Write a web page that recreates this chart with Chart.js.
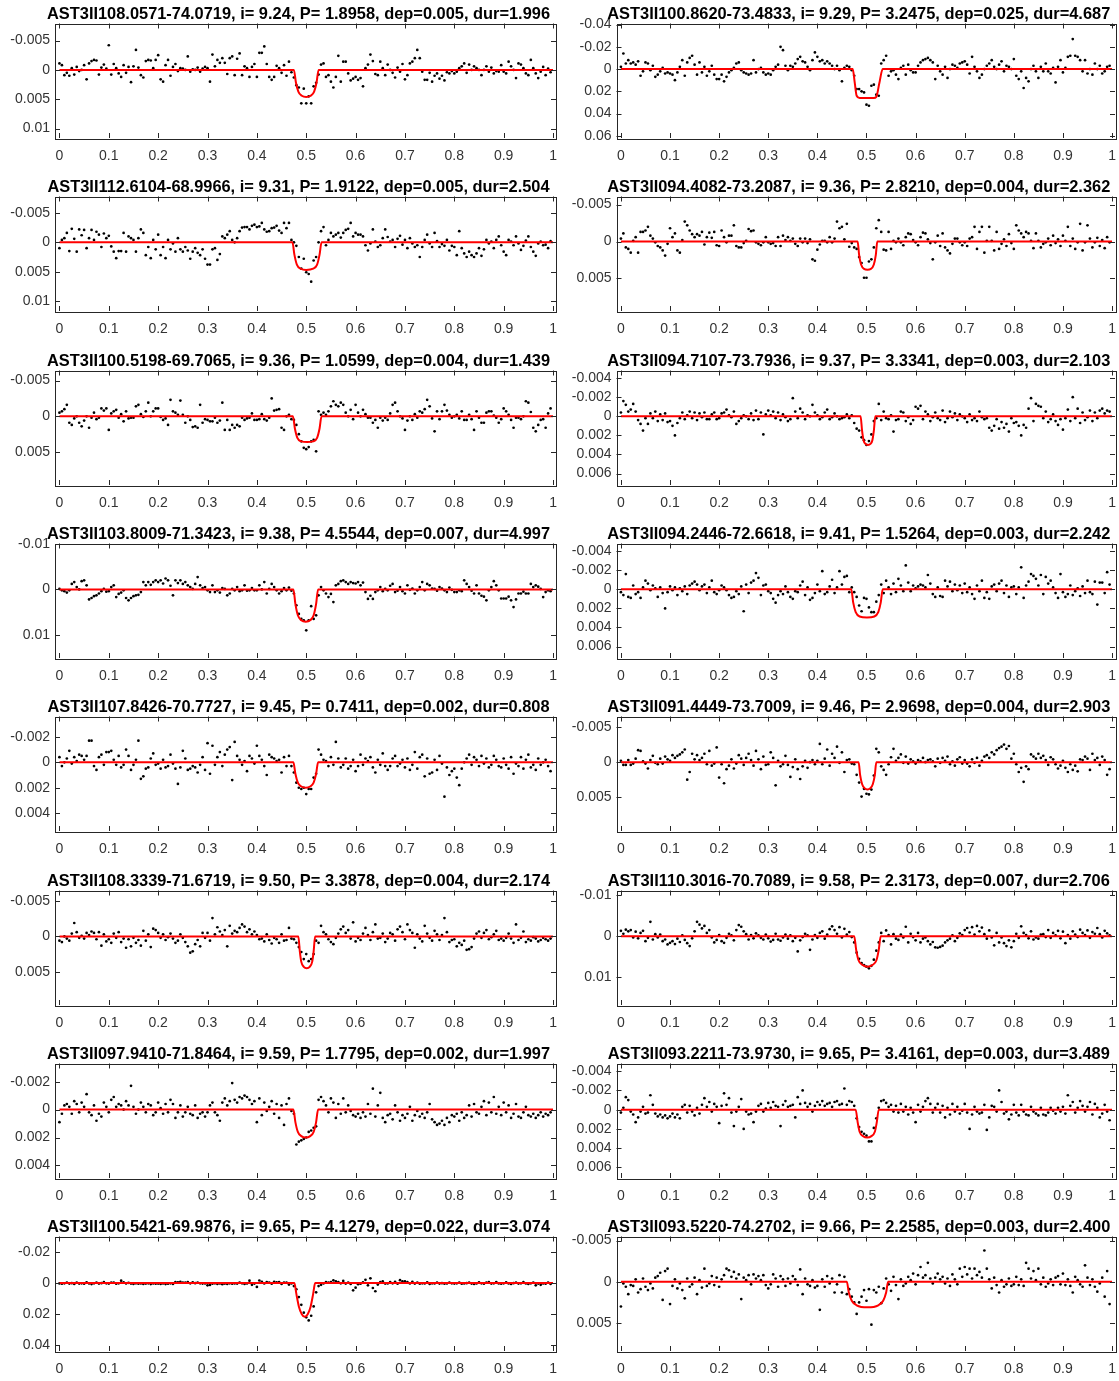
<!DOCTYPE html>
<html>
<head>
<meta charset="utf-8">
<title>AST3-II transit candidates</title>
<script src="https://cdn.jsdelivr.net/npm/chart.js@4.4.1/dist/chart.umd.min.js"></script>
<style>
  html, body { margin: 0; padding: 0; background: #fff; }
  #grid { position: relative; width: 1119px; height: 1381px; overflow: hidden; }
  #grid canvas { position: absolute; }
</style>
</head>
<body>
<div id="grid"></div>
<script>
// orbital phase of every binned point (same bins for all panels)
const phase = [
  0,0.005,0.01,0.015,0.02,0.025,0.03,0.035,0.04,0.045,0.05,0.055,0.06,0.065,0.07,0.075,0.08,0.085,0.09,0.095,
  0.1,0.105,0.11,0.115,0.12,0.125,0.13,0.135,0.14,0.145,0.15,0.155,0.16,0.165,0.17,0.175,0.18,0.185,0.19,0.195,
  0.2,0.205,0.21,0.215,0.22,0.225,0.23,0.235,0.24,0.245,0.25,0.255,0.26,0.265,0.27,0.275,0.28,0.285,0.29,0.295,
  0.3,0.305,0.31,0.315,0.32,0.325,0.33,0.335,0.34,0.345,0.35,0.355,0.36,0.365,0.37,0.375,0.38,0.385,0.39,0.395,
  0.4,0.405,0.41,0.415,0.42,0.425,0.43,0.435,0.44,0.445,0.45,0.455,0.46,0.465,0.47,0.475,0.48,0.485,0.49,0.495,
  0.5,0.505,0.51,0.515,0.52,0.525,0.53,0.535,0.54,0.545,0.55,0.555,0.56,0.565,0.57,0.575,0.58,0.585,0.59,0.595,
  0.6,0.605,0.61,0.615,0.62,0.625,0.63,0.635,0.64,0.645,0.65,0.655,0.66,0.665,0.67,0.675,0.68,0.685,0.69,0.695,
  0.7,0.705,0.71,0.715,0.72,0.725,0.73,0.735,0.74,0.745,0.75,0.755,0.76,0.765,0.77,0.775,0.78,0.785,0.79,0.795,
  0.8,0.805,0.81,0.815,0.82,0.825,0.83,0.835,0.84,0.845,0.85,0.855,0.86,0.865,0.87,0.875,0.88,0.885,0.89,0.895,
  0.9,0.905,0.91,0.915,0.92,0.925,0.93,0.935,0.94,0.945,0.95,0.955,0.96,0.965,0.97,0.975,0.98,0.985,0.99,0.995
];

const xTicks = [0, 0.1, 0.2, 0.3, 0.4, 0.5, 0.6, 0.7, 0.8, 0.9, 1];

const titles = [
  'AST3II108.0571-74.0719, i= 9.24, P= 1.8958, dep=0.005, dur=1.996',
  'AST3II100.8620-73.4833, i= 9.29, P= 3.2475, dep=0.025, dur=4.687',
  'AST3II112.6104-68.9966, i= 9.31, P= 1.9122, dep=0.005, dur=2.504',
  'AST3II094.4082-73.2087, i= 9.36, P= 2.8210, dep=0.004, dur=2.362',
  'AST3II100.5198-69.7065, i= 9.36, P= 1.0599, dep=0.004, dur=1.439',
  'AST3II094.7107-73.7936, i= 9.37, P= 3.3341, dep=0.003, dur=2.103',
  'AST3II103.8009-71.3423, i= 9.38, P= 4.5544, dep=0.007, dur=4.997',
  'AST3II094.2446-72.6618, i= 9.41, P= 1.5264, dep=0.003, dur=2.242',
  'AST3II107.8426-70.7727, i= 9.45, P= 0.7411, dep=0.002, dur=0.808',
  'AST3II091.4449-73.7009, i= 9.46, P= 2.9698, dep=0.004, dur=2.903',
  'AST3II108.3339-71.6719, i= 9.50, P= 3.3878, dep=0.004, dur=2.174',
  'AST3II110.3016-70.7089, i= 9.58, P= 2.3173, dep=0.007, dur=2.706',
  'AST3II097.9410-71.8464, i= 9.59, P= 1.7795, dep=0.002, dur=1.997',
  'AST3II093.2211-73.9730, i= 9.65, P= 3.4161, dep=0.003, dur=3.489',
  'AST3II100.5421-69.9876, i= 9.65, P= 4.1279, dep=0.022, dur=3.074',
  'AST3II093.5220-74.2702, i= 9.66, P= 2.2585, dep=0.003, dur=2.400'
];

// y axis limits (reversed axis, dimming downwards) and tick values
const yLimits = [
  [-0.0079, 0.0116], [-0.041, 0.062], [-0.0078, 0.0117], [-0.0061, 0.0094],
  [-0.0064, 0.0096], [-0.0048, 0.0072], [-0.0101, 0.0151], [-0.0048, 0.0072],
  [-0.0036, 0.0054], [-0.0065, 0.0098], [-0.0065, 0.0097], [-0.0111, 0.0167],
  [-0.0033, 0.0049], [-0.0048, 0.0071], [-0.0298, 0.0436], [-0.0055, 0.0084]
];
const yTicks = [
  [-0.005, 0, 0.005, 0.01], [-0.04, -0.02, 0, 0.02, 0.04, 0.06], [-0.005, 0, 0.005, 0.01], [-0.005, 0, 0.005],
  [-0.005, 0, 0.005], [-0.004, -0.002, 0, 0.002, 0.004, 0.006], [-0.01, 0, 0.01], [-0.004, -0.002, 0, 0.002, 0.004, 0.006],
  [-0.002, 0, 0.002, 0.004], [-0.005, 0, 0.005], [-0.005, 0, 0.005], [-0.01, 0, 0.01],
  [-0.002, 0, 0.002, 0.004], [-0.004, -0.002, 0, 0.002, 0.004, 0.006], [-0.02, 0, 0.02, 0.04], [-0.005, 0, 0.005]
];

// binned relative flux per panel, in units of 1e-3
const flux108_0571 = [
  -1.1,-0.8,0.9,0.5,1.0,-0.3,0.8,-0.5,0.2,0.0,-0.8,1.6,-1.1,-1.5,-1.7,-1.6,0.8,-0.4,-0.9,-0.2,
  -4.2,0.8,-1.0,-0.3,0.6,1.2,-0.8,0.5,-0.5,2.1,-0.6,-3.4,-0.4,0.9,1.3,-1.5,-1.7,-1.6,-0.3,-1.7,
  -2.5,1.6,2.0,-0.8,-1.7,1.0,-0.5,-1.0,0.2,-0.3,-0.2,0.0,-2.3,0.3,-0.1,0.0,-0.4,0.3,-0.2,-0.5,
  -0.3,2.0,-2.6,-0.6,-1.7,-1.2,-2.0,-1.2,0.7,-2.0,-2.3,0.9,-1.9,-2.8,0.9,-0.6,-0.3,1.2,-0.5,-1.0,
  1.2,-2.9,-2.9,-4.0,-1.0,1.2,1.7,1.2,-0.7,-0.3,0.5,-0.8,1.0,-1.4,0.4,1.3,2.6,3.0,5.7,3.2,
  5.7,4.5,5.7,2.8,2.2,0.8,-0.9,-1.1,1.2,0.9,2.0,3.0,1.2,-2.4,2.0,-1.4,-1.4,0.6,1.8,1.5,
  1.2,1.7,1.4,2.8,-0.3,-0.9,-2.6,-1.5,0.7,0.9,-1.4,-0.3,0.9,-0.9,0.0,0.5,1.3,-0.4,0.3,-1.0,
  1.6,0.9,-1.1,-1.4,-2.0,-3.4,-2.0,0.3,1.7,1.7,0.5,2.0,1.0,0.6,1.5,1.0,1.8,0.4,0.6,0.2,
  0.6,0.3,-0.3,-0.6,-1.1,0.5,-0.9,0.0,-0.6,-0.3,0.0,0.9,0.0,-0.6,0.3,-0.4,0.6,0.2,0.3,-0.8,
  0.3,0.6,-1.4,-0.6,0.0,1.4,-1.1,-0.9,-0.3,0.6,0.9,-1.7,-0.3,0.6,1.4,0.3,-0.5,0.9,-0.2,0.4
];
const flux100_8620 = [
  -2,-14,-5,-8,-5,-6,-4,-7,6,2,-6,-5,1,-3,7,5,2,-1,4,3,
  4,5,10,3,-2,-8,6,-6,-10,-12,-4,5,-6,3,-2,6,2,-3,5,9,
  9,5,11,7,3,1,-1,-5,-6,1,3,4,5,4,-8,3,0,-1,3,5,
  4,5,1,-2,-4,-20,-17,-3,1,-3,-2,-5,-9,-11,-7,-6,-2,1,-8,-15,
  -11,-7,-8,-5,-7,-5,-3,0,-3,1,11,-1,-3,-2,1,6,18,18,20,21,
  32,33,15,14,23,24,-5,-8,-12,6,2,1,5,9,-1,-3,5,-4,1,3,
  3,-3,-6,-8,-9,-10,-8,-6,9,-3,2,5,-2,8,0,-4,-3,-1,-5,-6,
  -7,-4,4,-11,-2,2,8,5,0,-3,-5,-8,-2,0,-4,-7,2,-3,-2,0,
  -9,6,9,2,17,8,11,0,-3,2,8,-2,2,-5,2,4,-1,12,-2,-8,
  3,-1,-11,-12,-27,-12,-11,-8,2,-8,4,0,5,-5,0,-3,4,2,-2,-3
];
const flux112_6104 = [
  1.0,-0.4,-0.7,-1.6,1.5,-2.3,-0.6,1.6,-2.2,-1.2,-2.1,1.0,-0.7,-2.1,-0.4,-1.8,-1.3,0.8,-1.5,-0.7,
  -1.1,0.7,1.6,2.7,1.5,1.5,-1.6,1.6,-1.0,-0.7,-0.4,1.6,-0.7,-2.2,-1.6,2.2,0.8,2.7,-0.4,1.2,
  -1.3,2.2,0.8,2.7,-0.4,1.2,0.2,1.6,-0.7,1.2,1.6,0.8,1.4,2.8,1.6,1.0,1.8,2.2,1.2,2.8,
  3.8,3.8,1.2,1.0,3.0,2.0,-1.0,-0.7,-1.3,-1.9,-0.4,0.0,-0.7,-1.9,-2.5,-2.6,-2.6,-2.2,-2.8,-3.0,
  -2.6,-2.7,-3.3,-2.2,-1.8,-1.9,-2.4,-2.5,-2.8,-2.0,-1.6,-3.3,-2.4,-3.3,-0.4,0.0,0.6,2.5,4.5,2.8,
  5.1,5.4,6.7,3.1,2.5,0.0,-1.9,-2.6,0.5,-0.4,-1.6,-1.0,-1.3,-1.6,-0.8,-1.6,-2.1,-2.3,-3.3,-1.0,
  -1.6,-1.3,-1.3,-1.0,0.5,1.4,0.2,-2.2,-0.1,0.8,0.5,-0.7,-2.2,-0.9,-0.1,-0.4,0.8,-0.6,-1.1,0.4,
  -0.4,1.0,-0.7,0.2,0.8,0.5,2.5,0.8,-0.4,-1.3,0.2,0.8,-1.6,-0.2,0.8,0.3,0.6,-0.4,1.4,0.6,
  0.8,2.2,-1.9,1.0,1.9,2.5,1.6,2.2,2.5,1.9,1.0,2.3,1.2,-0.4,0.2,-0.1,1.0,-0.4,-1.0,0.5,
  1.6,2.2,-0.4,-0.1,0.5,-1.0,0.2,1.3,0.6,-0.3,-1.0,0.8,1.6,2.3,0.2,-0.1,0.5,0.4,1.0,-0.2
];
const flux094_4082 = [
  -0.4,-1.1,0.8,1.0,1.5,-0.1,-0.6,1.5,-1.3,-1.3,-1.5,-2.0,-0.8,-0.4,0.1,0.6,0.8,1.2,1.9,0.3,
  -1.8,-0.6,-1.1,1.2,1.5,-0.2,-2.7,-2.2,-1.5,-1.0,-0.6,-1.0,-0.8,-1.3,0.4,-0.6,-1.2,-0.5,-1.3,0.5,
  0.6,-1.5,-0.6,0.1,-0.8,-0.8,-2.2,0.6,0.8,0.8,0.2,-0.1,-1.7,-1.4,-1.5,0.1,0.3,0.5,0.1,-0.6,
  0.1,0.3,0.2,0.6,-0.6,0.6,-0.8,-0.2,-0.6,-0.1,-0.4,0.3,0.6,-0.4,0.1,-0.4,0.2,-0.3,2.4,2.6,
  1.1,0.4,-0.1,-0.1,0.1,-0.6,0.1,-0.4,-2.7,-1.8,-2.0,-0.3,-2.4,0.7,0.2,0.8,1.0,2.1,2.9,4.9,
  4.9,2.7,2.4,0.8,-1.8,-2.9,-1.3,1.1,1.2,-1.3,1.0,-0.1,0.1,-0.4,0.1,0.5,-0.6,-1.1,-1.0,-0.2,
  0.1,0.5,-0.6,-1.2,-1.1,-0.3,0.2,2.4,0.1,-0.8,0.6,-1.1,0.8,1.2,1.6,0.3,-0.4,-0.4,0.1,0.5,
  0.1,0.6,-0.4,-0.6,-2.0,1.0,-1.3,-2.0,1.5,-0.1,-2.0,-0.1,1.2,-1.3,1.0,0.3,-0.3,0.6,-1.0,0.2,
  1.0,-2.2,-1.5,-1.1,-0.6,-1.3,-1.1,-0.1,0.9,-1.1,-0.1,0.8,0.3,0.1,-0.4,0.5,-0.8,0.2,-0.3,0.6,
  -0.8,-0.1,-2.0,0.6,-0.4,1.0,0.1,-2.4,1.2,0.1,-2.2,-0.4,0.8,0.1,-0.5,0.6,-0.2,0.9,-0.6,0.1
];
const flux100_5198 = [
  -0.5,-0.7,-1.0,-1.6,0.9,1.2,0.3,0.0,0.9,1.4,0.6,0.0,1.6,0.2,-0.5,0.4,0.2,-1.1,-0.8,-1.1,
  1.9,-0.4,-0.7,-0.9,0.2,-0.3,0.7,-0.7,0.3,0.2,0.2,-1.4,-1.6,-0.3,0.1,-0.7,-1.9,0.0,-0.7,-1.1,
  -1.1,0.1,0.5,0.3,1.2,-2.3,-0.7,-0.5,-0.2,-2.2,-0.2,0.9,0.0,0.5,1.5,1.4,1.6,-1.6,0.9,0.4,
  0.5,0.7,0.7,0.2,0.9,0.6,-1.9,1.9,0.5,1.9,1.2,1.6,1.2,1.4,0.2,0.5,0.3,0.2,-0.4,0.5,
  0.5,0.4,-0.3,0.4,0.6,0.2,-2.5,-0.8,-0.9,-1.0,1.6,1.9,0.0,-0.2,0.4,0.5,1.2,2.5,3.5,4.4,
  4.6,4.3,3.5,3.3,4.9,-0.7,-0.2,-0.5,-0.2,-0.7,-1.4,-2.1,-1.6,-1.4,-1.9,-1.6,-0.5,0.0,-0.9,0.4,
  -1.6,-0.5,0.0,-0.9,-0.3,0.2,0.2,0.9,0.5,1.6,0.2,0.6,0.2,0.5,-0.4,-1.6,-1.9,-0.7,0.0,0.3,
  1.9,0.6,0.0,0.5,-0.3,0.2,-0.7,-0.5,-1.0,-2.3,-1.4,0.3,2.1,-0.7,0.4,-0.7,-1.6,-0.8,-0.2,0.2,
  0.0,-0.2,0.3,-0.7,0.5,0.5,-0.2,0.4,1.9,-0.7,0.2,0.9,0.9,-0.5,-0.7,-0.7,-0.1,0.2,0.9,0.4,
  -1.1,-0.7,-0.2,0.5,1.6,0.2,0.2,0.4,0.0,-2.1,-1.9,-0.6,1.6,2.1,1.2,0.5,0.4,1.6,-0.4,-1.1
];
const flux094_7107 = [
  -0.4,-1.6,-1.2,-0.5,-0.7,-1.3,-0.5,0.4,0.8,1.5,0.2,0.8,-0.3,0.2,-0.5,0.5,-0.2,0.4,-0.3,0.6,
  0.5,1.0,2.0,0.7,0.2,-0.4,0.3,-0.1,-0.5,0.2,-0.4,0.4,-0.3,0.1,-0.4,0.3,0.3,-0.2,-0.4,0.3,
  0.2,-0.3,-0.4,-0.7,-0.1,0.1,-0.5,0.8,0.5,0.2,-0.1,0.0,0.3,-0.3,0.4,-0.6,0.3,-0.4,1.9,-0.2,
  -0.6,-0.1,-0.5,0.2,-0.4,0.4,-0.2,0.1,0.5,0.3,-1.9,-0.5,0.2,-0.8,-0.4,0.3,-0.1,0.0,-1.2,-0.4,
  -0.1,0.3,0.1,-0.4,-0.7,0.3,0.1,-0.3,0.0,0.3,0.2,0.1,-0.2,0.2,-0.1,0.7,1.3,1.5,2.2,2.5,
  3.0,2.6,1.9,0.5,0.2,-1.3,0.4,-0.5,0.2,0.3,-0.1,1.6,0.4,0.3,-0.5,-0.4,0.5,0.1,0.8,0.4,
  -1.0,-0.8,-1.1,0.3,-0.5,-0.2,0.5,0.1,-0.4,0.2,0.4,-0.6,0.6,0.2,-0.5,0.1,-0.3,0.4,-0.2,0.0,
  0.2,0.6,-0.2,0.4,0.2,0.5,-0.5,0.1,0.3,0.2,1.2,1.5,1.0,0.3,1.3,0.6,1.2,0.8,1.6,0.2,
  0.7,0.6,1.0,2.0,0.9,1.2,-0.8,-1.9,0.5,-1.3,-1.1,-1.0,0.2,-0.5,0.6,0.3,-0.2,0.5,0.9,0.3,
  1.4,0.2,-0.7,0.5,-2.0,0.2,-0.8,0.7,-0.4,0.4,0.1,-0.6,0.5,-0.4,0.2,-0.6,-0.8,-0.3,-0.6,-0.5
];
const flux103_8009 = [
  -0.1,0.2,0.4,0.7,0.2,-1.2,-1.6,-0.5,0.0,-1.8,-2.0,-0.9,2.2,1.9,1.5,1.3,0.9,0.4,-0.1,0.5,
  0.4,-0.5,-0.9,1.7,1.0,0.7,0.2,1.9,2.4,1.9,1.5,1.3,1.2,0.6,-1.6,-0.9,-1.6,-1.0,-1.6,-2.0,
  -1.6,-2.0,-1.3,-2.4,-2.0,-0.8,1.3,-2.0,-1.4,-2.0,-1.2,-1.6,-0.9,-0.5,-0.1,-1.2,-2.7,-0.9,-0.3,-0.5,
  0.2,0.6,-0.9,0.6,0.2,0.7,-0.3,-0.1,1.3,0.9,-0.1,0.2,-0.5,0.4,0.2,-0.9,0.3,0.2,-0.3,0.2,
  0.2,-0.9,0.0,-1.6,0.9,-0.1,-1.2,-0.5,0.2,0.9,0.4,-0.3,0.2,-0.4,0.3,0.9,3.5,5.4,6.5,6.8,
  9.0,6.8,3.7,6.5,5.7,1.3,-0.5,0.2,0.9,1.7,1.0,2.8,-0.9,-1.2,-1.8,-2.0,-1.6,-1.2,-1.6,-1.4,
  -1.3,-1.6,-0.9,-1.5,0.6,2.1,1.4,2.1,0.6,0.2,-0.5,0.4,-0.1,0.2,-0.8,-1.2,0.6,0.3,-0.5,0.4,
  0.9,-0.9,0.1,-0.2,0.9,0.2,-0.5,-1.6,0.2,-1.2,-0.9,-0.2,-0.1,0.3,-0.5,-0.2,0.2,0.6,-0.4,0.1,
  0.6,0.6,0.2,0.4,-2.0,-1.2,-0.5,0.3,0.9,-0.9,0.9,1.4,1.6,2.4,0.2,-0.5,-1.8,-0.9,0.2,2.0,
  2.0,2.0,1.6,2.4,3.9,2.2,0.9,0.9,0.5,0.9,0.9,-1.2,-0.5,-0.9,-0.6,-0.1,1.7,0.6,0.2,0.4
];
const flux094_2446 = [
  0.3,0.6,-1.6,0.8,0.9,-0.4,0.5,0.3,0.9,-0.2,-0.9,-0.6,0.1,-0.4,-0.1,0.8,-0.2,0.4,2.0,0.3,
  -0.3,0.1,-0.2,0.6,-0.1,0.2,-0.3,0.5,-0.4,-0.6,-0.8,-0.5,0.1,-0.3,-0.5,0.4,-0.2,-0.9,0.3,0.5,
  0.1,-0.4,-0.2,0.1,0.6,0.9,0.8,0.2,0.5,-0.3,2.3,-0.5,0.4,-0.7,-0.9,-1.7,-1.2,0.6,-0.4,-0.5,
  0.2,0.4,1.0,1.4,0.6,0.2,0.5,-0.3,0.3,0.8,1.0,0.2,0.3,-0.4,-0.8,0.6,-0.2,1.1,0.9,0.4,
  -0.5,0.2,-1.9,0.5,0.3,-0.3,-1.0,0.4,-0.2,-1.9,-0.5,-1.3,-1.4,0.3,-0.2,0.3,0.8,1.7,2.3,0.9,
  1.0,1.9,2.4,2.4,1.3,0.6,-0.5,0.4,-0.9,-0.2,0.5,-0.6,0.3,-1.1,-0.4,0.2,-2.5,-0.7,0.2,-0.4,
  -0.1,-0.3,-0.5,-0.4,-0.2,-1.5,-0.6,0.5,0.8,-0.2,0.7,0.8,-0.9,-0.3,-0.8,0.2,-0.5,0.1,-0.4,0.4,
  -0.6,0.3,-0.2,0.5,1.0,-0.4,0.2,-0.9,0.9,0.3,1.0,-0.3,-0.5,0.2,-0.6,-0.9,0.4,-0.4,0.8,-0.2,
  -0.3,0.5,-0.2,-2.3,0.9,-0.4,-0.8,-1.6,-1.4,-1.1,-0.4,-1.5,0.5,-1.3,-0.6,-0.9,-0.2,0.4,0.9,-1.6,
  0.3,0.8,0.5,-0.4,0.6,0.2,-0.1,0.7,-0.3,0.4,-0.9,0.3,0.5,-0.8,1.6,-0.7,-0.7,0.4,-1.8,-0.5
];
const flux107_8426 = [
  -0.4,0.3,0.0,-0.3,-0.9,0.1,-0.4,-0.1,-0.6,-0.5,-0.2,-0.5,-1.7,-1.7,0.3,0.6,-0.4,-0.6,0.2,-0.8,
  -0.8,-0.9,-0.2,0.2,-0.5,0.4,0.2,-1.0,-0.5,0.6,0.2,-0.2,-1.7,1.3,1.1,0.5,0.4,-0.3,-0.7,0.2,
  0.1,0.5,-0.2,0.4,0.3,-0.6,0.1,0.5,1.7,0.4,-0.9,-0.3,0.6,0.5,0.3,0.4,0.8,0.2,-0.4,0.6,
  -1.5,0.9,-1.3,0.2,-0.4,-0.8,0.3,-0.6,-1.0,-1.2,1.4,-1.6,-0.5,-0.2,0.2,-0.1,0.7,-0.5,-0.3,0.1,
  -1.3,-0.5,-0.2,0.3,1.0,-0.6,-0.4,-0.3,-0.1,-0.2,0.8,-0.4,0.3,-0.5,0.3,0.8,1.6,2.0,2.1,2.0,
  2.5,2.1,2.1,1.2,0.9,-1.0,-0.6,-0.2,-0.1,0.3,-0.4,0.2,-1.6,-0.3,0.4,0.2,-0.3,0.5,0.3,-0.2,
  0.7,0.3,-0.6,0.2,-0.3,-0.1,-0.4,0.4,0.8,-0.2,0.2,-0.7,0.3,0.6,0.3,-0.3,-0.5,0.3,0.1,-0.2,
  0.4,-0.3,0.6,0.2,-0.8,0.5,-0.4,-0.6,1.1,-0.3,0.9,0.8,-0.2,0.6,-0.5,0.1,2.7,0.4,1.0,0.7,
  0.5,1.2,1.8,0.5,0.0,-0.3,-0.6,0.2,-0.4,-0.2,0.3,-0.5,0.1,-0.3,0.4,0.2,-0.5,-0.2,0.3,0.4,
  -0.3,0.2,0.5,-0.4,0.9,0.1,0.3,-0.4,0.5,-0.2,-0.6,0.4,0.2,0.6,-0.3,0.2,0.0,-0.2,0.3,0.7
];
const flux091_4449 = [
  -0.2,0.4,0.4,-0.3,0.4,0.2,-0.5,-1.7,-1.6,-0.1,0.2,0.9,-0.3,-0.9,0.1,0.3,-0.5,0.2,-0.8,-0.4,
  -0.2,-1.0,-0.6,-0.9,-1.1,-1.4,-1.8,2.5,1.4,-1.2,-0.4,-1.0,-0.3,-0.6,-1.2,0.3,-1.6,0.5,0.2,-2.1,
  2.2,0.3,3.0,1.0,0.5,-0.4,0.9,0.2,-1.0,-0.5,0.4,-0.6,-1.2,-0.3,0.5,-1.6,-0.4,1.0,-0.8,0.4,
  0.3,-1.4,-0.6,3.3,-0.2,0.6,0.3,-0.9,0.4,2.1,0.7,-0.4,1.0,2.4,0.6,-0.2,0.8,0.0,-0.3,0.3,
  -0.2,-2.6,0.3,-0.5,-1.8,0.5,-1.2,-0.6,-2.2,0.1,-1.4,1.4,-0.3,-0.4,0.2,0.3,1.8,2.9,4.9,3.8,
  4.5,4.6,3.9,1.9,-1.9,-1.4,0.6,1.1,1.8,0.3,-0.7,-1.9,-0.2,-0.6,-1.1,0.1,-0.8,0.2,-0.4,-0.1,
  0.2,-0.3,-0.1,-0.6,0.0,-0.3,-0.4,-0.1,0.6,-0.5,0.1,-0.6,-0.2,-0.8,0.3,-0.1,0.5,-0.4,-0.7,0.2,
  -0.3,0.2,0.6,-0.4,0.1,-0.6,0.5,-0.2,-0.8,-1.0,-0.6,-1.4,-1.1,-1.7,-2.0,-2.2,-2.5,-1.9,-2.3,-0.5,
  -1.2,0.3,1.4,0.8,2.8,0.6,1.0,-1.1,-0.8,-0.5,-1.2,-0.6,-0.9,-0.3,0.4,-0.7,-0.4,0.3,0.9,0.5,
  -0.2,0.8,1.4,0.3,1.1,0.5,1.3,-0.4,-0.3,-0.8,-0.5,1.1,-1.2,-0.3,-0.6,0.4,-0.8,-0.3,1.8,1.0
];
const flux108_3339 = [
  0.6,0.8,0.0,0.3,0.6,-0.4,-1.9,-0.6,0.2,-0.1,0.3,-0.5,-0.2,-0.7,-0.5,0.4,-0.6,1.3,-0.3,0.7,
  0.4,0.9,-0.4,0.2,-0.6,0.8,0.3,1.6,0.4,1.4,0.2,0.9,0.5,1.3,-0.8,0.6,-0.3,1.5,-1.1,-0.9,
  -0.5,0.2,-0.3,0.5,0.1,-0.4,0.3,0.9,0.6,-0.3,0.2,0.8,1.4,2.3,2.1,1.1,0.5,1.4,-0.5,0.2,
  -0.5,0.6,-2.6,-0.3,-1.3,-0.7,-0.2,-0.9,1.4,-1.5,-0.4,-0.8,-0.6,-1.2,-1.7,-1.4,-0.6,-1.0,-0.3,-0.7,
  -0.2,0.4,0.3,0.7,-0.3,0.5,1.0,0.2,0.4,0.9,-0.3,0.6,0.5,-1.2,0.3,0.4,0.9,1.5,2.2,3.2,
  2.5,3.5,3.2,2.5,0.6,0.9,-1.5,-0.6,-0.3,0.4,0.8,1.1,0.2,-0.4,-1.0,-1.4,-0.5,-0.9,0.3,-2.0,
  0.7,0.2,0.5,-0.4,-1.2,-0.2,0.5,-0.6,-1.7,0.3,0.2,-0.4,0.8,0.3,-0.5,-0.3,0.6,-1.0,-1.4,-0.6,
  0.4,-1.7,-0.9,-0.5,1.6,-0.3,0.3,0.7,-1.5,-0.4,0.2,0.6,-0.8,-0.3,0.5,-0.2,-2.6,-0.6,0.8,0.5,
  0.4,1.4,0.9,1.2,0.6,1.9,1.8,1.5,0.3,-0.4,-0.7,0.2,-0.5,-0.9,0.4,0.1,-0.3,-0.8,0.5,0.3,
  0.6,0.2,-0.4,0.3,0.9,-1.7,0.5,0.2,-0.7,0.8,0.4,0.6,0.1,0.3,0.7,0.5,0.2,0.4,0.6,0.3
];
const flux110_3016 = [
  -1.3,-0.6,-1.6,-1.2,-1.5,0.3,-1.1,0.5,-0.8,-1.3,1.2,0.4,-3.5,0.8,-0.5,0.3,-0.4,1.2,0.8,2.0,
  1.6,1.2,1.9,0.6,1.4,-0.2,0.9,1.7,2.4,0.5,-1.2,-3.5,-2.8,-1.9,-2.5,-0.8,-1.5,0.3,1.5,0.9,
  -0.3,1.2,1.6,0.4,-0.6,-0.2,1.0,-1.5,-2.7,-2.3,-1.2,-0.5,0.8,-0.3,0.5,-0.7,-0.2,0.4,0.8,-0.4,
  0.5,1.3,0.9,-0.6,0.8,1.1,0.3,-0.4,0.6,-0.2,1.2,0.4,3.7,1.0,0.2,-0.6,-0.2,3.3,0.8,-0.3,
  0.4,-0.8,-1.2,0.6,-0.4,-1.7,-2.4,-1.5,-0.6,-2.2,0.3,-1.8,-0.4,-1.0,0.2,1.5,4.0,5.5,6.5,7.0,
  7.4,7.8,7.2,5.7,3.5,1.5,-0.8,1.2,-1.4,-0.3,2.0,-0.5,0.6,0.9,-0.4,0.3,-2.3,1.5,-0.6,0.2,
  1.0,-0.8,1.5,0.6,0.3,1.2,2.0,1.4,2.7,2.8,2.6,2.3,1.5,1.0,0.6,-0.2,1.2,0.4,-0.7,-0.3,
  -1.5,-2.0,-0.9,-2.2,-0.4,-2.5,-1.2,-2.1,-0.5,0.6,-1.4,0.3,2.2,-0.8,1.5,0.3,1.7,2.4,1.0,2.7,
  1.2,-0.6,0.4,-2.4,-0.8,-0.3,0.5,-1.2,0.8,0.3,0.6,-0.4,-0.5,0.2,-1.5,0.4,-0.8,-0.2,-1.3,0.5,
  -1.1,1.7,-0.3,0.6,-1.2,-0.4,0.2,-1.6,-0.8,-0.3,-1.4,0.4,-1.0,-0.6,-2.0,-0.5,0.3,-1.3,-0.7,-0.2
];
const flux097_9410 = [
  0.9,0.3,-0.3,-0.4,-0.2,0.3,-0.6,-0.4,0.2,-0.5,-0.2,-1.1,0.2,0.4,-0.3,0.8,0.3,0.5,-0.5,-0.2,
  0.2,-0.7,-0.9,-0.2,-0.4,-0.3,0.0,-0.6,-0.3,-1.7,-0.2,0.3,0.0,-0.5,-0.2,0.2,-0.4,-0.3,0.4,0.2,
  -0.5,-0.1,0.3,-0.4,0.2,-0.7,-0.4,0.6,0.2,-0.3,0.5,0.2,-0.2,0.3,0.4,-0.3,0.6,0.3,0.2,0.5,
  0.2,-0.3,-0.5,0.2,0.4,0.8,-0.5,-0.8,-0.3,-0.6,-1.9,-0.7,-0.5,-0.9,-0.8,-1.0,-0.9,-0.7,-0.4,-0.6,
  0.9,-0.8,0.4,-0.5,0.1,-0.2,-0.6,0.3,-0.4,0.6,-0.3,1.1,-0.4,-0.8,0.1,0.3,2.5,2.3,2.2,2.1,
  2.0,1.6,1.5,1.3,1.2,-0.7,-0.9,-0.6,-0.3,0.2,-0.8,-0.5,0.6,-0.4,0.3,-0.8,0.2,-0.3,0.1,0.4,
  0.5,0.3,0.6,0.2,0.5,-0.4,0.3,-1.5,0.5,-0.3,-1.2,0.6,0.9,0.4,0.3,0.7,-0.3,0.2,0.8,0.4,
  0.6,0.3,-0.2,0.8,0.4,0.1,0.5,0.3,0.6,0.2,-0.4,0.7,0.9,1.1,1.0,0.8,1.1,0.6,0.9,0.4,
  0.5,0.3,0.8,0.2,0.6,0.4,-0.3,0.5,-0.4,0.2,0.3,-0.2,-0.6,0.4,-0.5,0.2,-0.9,0.3,-0.2,0.4,
  -0.5,0.2,-0.3,0.6,0.3,-0.4,0.5,0.6,0.2,-0.2,0.4,0.5,0.3,0.6,0.4,0.2,0.5,0.3,0.4,0.2
];
const flux093_2211 = [
  0.3,-0.2,-1.3,-1.0,0.2,0.5,1.3,0.8,0.2,-0.3,0.4,0.3,-1.5,-0.5,0.4,0.7,0.5,0.8,0.6,0.9,
  0.7,0.4,0.8,0.5,0.9,-0.3,-0.5,0.3,-0.4,0.2,0.6,-0.2,0.4,-0.5,-1.2,-0.3,-0.8,0.2,-0.6,-0.3,
  1.4,-0.4,-1.7,-0.5,-1.2,0.3,1.7,0.2,-0.3,-1.1,2.0,0.2,0.5,0.4,1.3,0.2,-0.4,-0.6,0.2,-0.1,
  -0.7,-0.2,-0.8,-0.4,-0.3,1.7,-0.5,-0.9,-0.3,-0.4,-0.5,0.8,-1.3,-0.6,-2.0,-0.7,-0.3,-0.6,0.2,-0.4,
  -0.8,-0.5,-0.9,-0.4,-0.6,-0.7,-0.3,-0.8,-0.9,-0.5,-0.6,-2.2,-0.5,-0.9,-0.8,-0.4,0.9,1.8,2.3,2.5,
  2.7,3.3,3.3,1.9,0.9,-0.2,-0.9,-1.0,-0.7,-0.3,-0.5,0.2,-0.4,0.3,-0.6,0.2,-0.3,0.5,-0.2,0.3,
  1.3,-0.5,0.2,-0.3,-0.9,-1.2,-0.6,0.3,-0.2,-0.6,0.3,-0.4,0.8,-0.2,0.5,-0.6,0.2,-0.3,0.4,0.1,
  -0.6,0.3,2.0,0.5,-0.3,0.2,0.4,0.3,-0.5,2.1,0.8,-0.4,-0.3,0.2,-2.0,-0.8,0.4,0.2,1.0,0.5,
  -0.5,0.3,0.6,-0.5,0.2,0.5,0.6,-0.3,0.2,0.4,0.6,-0.2,0.5,0.6,0.3,-0.2,0.1,0.4,-0.2,0.2,
  -0.3,0.4,-1.5,-0.4,-0.8,0.3,-0.2,-0.9,-0.4,0.2,-0.3,-0.8,0.5,-0.6,-0.2,0.8,0.4,-0.5,0.2,1.1
];
const flux100_5421 = [
  0.3,0.5,0.2,-0.3,0.4,0.1,0.6,-0.2,0.4,0.2,0.5,-0.4,0.3,0.7,0.2,-0.3,0.4,0.1,-0.5,0.2,
  0.4,-0.3,-0.2,0.5,0.2,-1.5,-0.4,0.3,-0.1,0.4,0.6,0.2,0.5,0.3,0.6,0.4,0.2,0.7,0.3,0.5,
  0.4,0.6,0.3,0.7,0.5,0.2,0.6,-0.6,-0.4,-0.8,-0.3,-0.2,-0.5,0.2,-0.4,0.1,-0.3,0.2,0.4,0.3,
  1.5,1.3,0.5,0.2,0.6,0.3,0.8,0.4,0.6,0.2,0.5,0.3,0.4,-0.3,0.2,0.6,0.3,-1.5,1.2,0.4,
  2.5,-1.6,-0.8,0.3,-0.6,-0.3,0.5,-0.8,-0.4,-0.5,0.6,-0.3,-0.2,1.0,0.3,2.0,4.0,9.0,14.0,19.0,
  22.0,24.0,21.0,15.0,6.0,2.0,1.2,0.3,-0.5,-0.2,-0.6,-1.7,-1.0,-0.6,0.2,-1.3,0.4,-0.3,0.6,4.7,
  3.0,0.8,0.5,-0.4,-2.0,1.5,-3.0,3.2,5.3,1.0,-0.5,-1.0,0.4,0.3,-0.6,0.2,-0.8,0.5,-1.8,-1.0,
  -1.0,-0.5,0.3,-0.8,0.4,-0.3,0.5,0.2,0.3,-0.4,0.6,0.2,0.3,-0.2,0.4,0.1,0.5,0.3,-0.3,0.2,
  0.4,0.2,-0.3,0.5,0.3,0.1,-0.2,0.4,0.6,0.3,-0.4,0.2,0.5,-0.3,-0.5,0.4,0.2,-0.6,0.3,0.5,
  0.2,-0.4,0.3,0.6,0.1,-0.3,0.4,0.2,-0.5,0.3,0.6,0.2,-0.3,1.5,0.4,1.2,0.3,0.5,-0.2,0.6
];
const flux093_5220 = [
  3.0,0.2,0.6,1.5,0.4,0.5,-0.3,1.3,0.9,-0.4,0.6,1.0,0.2,0.8,-0.5,-0.7,-1.1,2.2,-1.3,-1.6,
  2.7,0.5,-0.3,0.8,0.2,1.0,2.0,-0.4,0.6,0.3,-0.5,1.5,-0.2,0.7,-1.6,0.5,0.2,-0.7,0.4,-0.5,
  0.6,-0.3,-0.8,-1.6,-1.4,-0.6,-1.2,-0.4,-0.9,2.1,-0.5,-0.2,-0.8,0.3,-0.9,-0.4,-0.7,-0.2,-0.8,0.4,
  0.8,0.3,-0.9,-0.4,0.6,-0.7,-0.3,0.5,-0.4,0.2,-0.7,-0.3,0.4,-1.5,1.5,-0.4,0.3,0.5,-0.2,0.7,
  0.5,3.4,-0.3,0.6,-0.7,0.2,-0.4,1.3,0.3,-0.8,1.3,-0.6,1.5,0.9,1.8,2.5,3.9,2.5,1.8,1.0,
  2.3,0.9,5.2,1.0,1.3,0.6,2.6,0.8,-0.4,0.3,1.1,-0.6,0.4,2.1,-0.3,0.5,0.2,-0.6,-0.2,-1.0,
  0.3,-0.8,-1.8,-0.5,-0.8,-2.3,-0.4,0.2,-0.5,-1.0,-0.3,-0.6,0.2,-0.4,0.5,-0.9,-0.3,0.3,-1.6,-0.6,
  -1.8,-0.9,-1.6,-0.4,-1.6,-0.8,-1.2,-0.5,-3.8,-1.6,-0.3,0.8,-0.5,0.4,1.3,-0.2,0.6,0.3,-0.4,0.5,
  0.3,-0.6,0.4,-0.3,0.5,-2.3,-1.6,-0.4,-1.3,-0.2,-1.6,0.3,-0.5,0.6,0.2,-0.3,0.4,-0.5,-0.7,0.3,
  -1.0,0.4,-0.3,0.5,1.3,-0.6,-0.2,0.3,0.6,-2.0,-0.5,0.4,-0.3,0.6,1.2,0.2,-0.5,1.8,-1.3,2.7
];

// fitted transit model (phase, relative flux in 1e-3)
const model108_0571 = { x: [0,0.475,0.479,0.484,0.491,0.5,0.509,0.516,0.521,0.525,1], y: [0,0,2.1,3.7,4.4,4.6,4.4,3.7,2.1,0,0] };
const model100_8620 = { x: [0,0.472,0.476,0.48,0.486,0.5,0.515,0.52,0.526,0.533,1], y: [0,0,12,24,26,26,26,25,13,0,0] };
const model112_6104 = { x: [0,0.472,0.476,0.481,0.489,0.5,0.514,0.522,0.527,0.531,1], y: [0,0,2.1,3.8,4.5,4.7,4.5,3.8,2.1,0,0] };
const model094_4082 = { x: [0,0.482,0.485,0.489,0.495,0.502,0.509,0.515,0.519,0.522,1], y: [0,0,1.8,3.1,3.7,3.8,3.7,3.1,1.8,0,0] };
const model100_5198 = { x: [0,0.473,0.477,0.482,0.49,0.502,0.514,0.522,0.527,0.531,1], y: [0,0,1.7,3.0,3.5,3.6,3.5,3.0,1.7,0,0] };
const model094_7107 = { x: [0,0.488,0.491,0.494,0.498,0.503,0.508,0.512,0.515,0.518,1], y: [0,0,1.5,2.5,2.9,3.0,2.9,2.5,1.5,0,0] };
const model103_8009 = { x: [0,0.474,0.478,0.483,0.49,0.499,0.508,0.515,0.52,0.524,1], y: [0,0,3.2,5.7,6.8,7.1,6.8,5.7,3.2,0,0] };
const model094_2446 = { x: [0,0.469,0.473,0.478,0.486,0.501,0.516,0.524,0.529,0.533,1], y: [0,0,1.4,2.4,2.85,2.95,2.85,2.4,1.4,0,0] };
const model107_8426 = { x: [0,0.474,0.478,0.483,0.49,0.499,0.508,0.515,0.52,0.524,1], y: [0,0,0.9,1.6,1.9,2.0,1.9,1.6,0.9,0,0] };
const model091_4449 = { x: [0,0.484,0.487,0.491,0.496,0.502,0.508,0.513,0.517,0.52,1], y: [0,0,1.8,3.1,3.7,3.9,3.7,3.1,1.8,0,0] };
const model108_3339 = { x: [0,0.484,0.487,0.49,0.495,0.501,0.507,0.512,0.515,0.518,1], y: [0,0,2.1,3.6,4.3,4.5,4.3,3.6,2.1,0,0] };
const model110_3016 = { x: [0,0.475,0.479,0.484,0.492,0.502,0.512,0.52,0.525,0.529,1], y: [0,0,3.3,5.9,7.0,7.4,7.0,5.9,3.3,0,0] };
const model097_9410 = { x: [0,0.474,0.478,0.483,0.49,0.499,0.508,0.515,0.52,0.524,1], y: [0,0,0.9,1.6,1.9,2.0,1.9,1.6,0.9,0,0] };
const model093_2211 = { x: [0,0.478,0.482,0.486,0.493,0.5015,0.51,0.517,0.521,0.525,1], y: [0,0,1.3,2.3,2.75,2.9,2.75,2.3,1.3,0,0] };
const model100_5421 = { x: [0,0.476,0.48,0.485,0.491,0.497,0.503,0.509,0.514,0.518,1], y: [0,0,7,15,20,21.7,20,15,7,0,0] };
const model093_5220 = { x: [0,0.46,0.464,0.47,0.48,0.502,0.524,0.534,0.54,0.544,1], y: [0,0,1.3,2.3,2.85,3.1,2.85,2.3,1.3,0,0] };

const fluxes = [
  flux108_0571, flux100_8620, flux112_6104, flux094_4082, flux100_5198, flux094_7107, flux103_8009, flux094_2446,
  flux107_8426, flux091_4449, flux108_3339, flux110_3016, flux097_9410, flux093_2211, flux100_5421, flux093_5220
];
const models = [
  model108_0571, model100_8620, model112_6104, model094_4082, model100_5198, model094_7107, model103_8009, model094_2446,
  model107_8426, model091_4449, model108_3339, model110_3016, model097_9410, model093_2211, model100_5421, model093_5220
];

const FONT = '"Liberation Sans", Arial, Helvetica, sans-serif';
Chart.defaults.font.family = FONT;
Chart.defaults.color = '#333';

function formatTick(v) {
    const s = Number(v.toPrecision(6)).toString();
    return s === '-0' ? '0' : s;
}

// box round the axes with inward tick marks on all four sides, plus the panel title
const axesBox = {
    id: 'axesBox',
    afterDraw(chart, args, opts) {
        const { ctx, chartArea: a, scales: { x, y } } = chart;
        const len = 5;
        ctx.save();
        ctx.strokeStyle = '#262626';
        ctx.lineWidth = 1;
        ctx.beginPath();
        x.ticks.forEach(t => {
            const px = Math.round(x.getPixelForValue(t.value)) + 0.5;
            ctx.moveTo(px, a.bottom); ctx.lineTo(px, a.bottom - len);
            ctx.moveTo(px, a.top); ctx.lineTo(px, a.top + len);
        });
        y.ticks.forEach(t => {
            const py = Math.round(y.getPixelForValue(t.value)) + 0.5;
            ctx.moveTo(a.left, py); ctx.lineTo(a.left + len, py);
            ctx.moveTo(a.right, py); ctx.lineTo(a.right - len, py);
        });
        ctx.stroke();
        ctx.strokeRect(Math.round(a.left) + 0.5, Math.round(a.top) + 0.5,
                       Math.round(a.right - a.left), Math.round(a.bottom - a.top));

        // title, centred a little left of the axes centre as in the original
        ctx.fillStyle = '#000';
        ctx.font = 'bold 16.4px ' + FONT;
        ctx.textAlign = 'center';
        ctx.textBaseline = 'alphabetic';
        ctx.fillText(opts.text, (a.left + a.right) / 2 - 7, 18.5);
        ctx.restore();
    }
};

function makePanel(k) {
    const col = k % 2;
    const row = Math.floor(k / 2);
    const canvas = document.createElement('canvas');
    canvas.width = 560;
    canvas.height = 174;
    canvas.style.left = (col === 0 ? 0 : 559) + 'px';
    canvas.style.top = Math.round(row * 173.33) + 'px';
    document.getElementById('grid').appendChild(canvas);

    const model = models[k];
    const points = phase.map((p, i) => ({ x: p, y: fluxes[k][i] / 1000 }));
    const curve = model.x.map((p, i) => ({ x: p, y: model.y[i] / 1000 }));

    new Chart(canvas, {
        type: 'scatter',
        data: {
            datasets: [
                {
                    data: curve,
                    showLine: true,
                    borderColor: '#ff0000',
                    borderWidth: 2,
                    pointRadius: 0,
                    cubicInterpolationMode: 'monotone',
                    fill: false
                },
                {
                    data: points,
                    pointRadius: 1.35,
                    pointBackgroundColor: '#000',
                    pointBorderWidth: 0
                }
            ]
        },
        options: {
            responsive: false,
            animation: false,
            events: [],
            layout: { padding: { left: 0, right: col === 0 ? 4 : 1.5, top: 23.5, bottom: 0 } },
            plugins: {
                legend: { display: false },
                tooltip: { enabled: false },
                title: { display: false },
                axesBox: { text: titles[k] }
            },
            scales: {
                x: {
                    type: 'linear',
                    min: -0.009,
                    max: 1.006,
                    afterBuildTicks: s => { s.ticks = xTicks.map(v => ({ value: v })); },
                    afterFit: s => { s.height = 36; s.paddingLeft = 0; s.paddingRight = 0; },
                    grid: { display: false, drawTicks: false },
                    border: { display: false },
                    ticks: { font: { size: 14 }, padding: 10, autoSkip: false, maxRotation: 0, callback: formatTick }
                },
                y: {
                    type: 'linear',
                    reverse: true,
                    min: yLimits[k][0],
                    max: yLimits[k][1],
                    afterBuildTicks: s => { s.ticks = yTicks[k].map(v => ({ value: v })); },
                    afterFit: s => { s.width = col === 0 ? 55 : 57.5; s.paddingTop = 0; s.paddingBottom = 0; },
                    grid: { display: false, drawTicks: false },
                    border: { display: false },
                    ticks: { font: { size: 14 }, padding: 5, autoSkip: false, callback: formatTick }
                }
            }
        },
        plugins: [axesBox]
    });
}

for (let k = 0; k < titles.length; k++) {
    makePanel(k);
}
</script>
</body>
</html>
